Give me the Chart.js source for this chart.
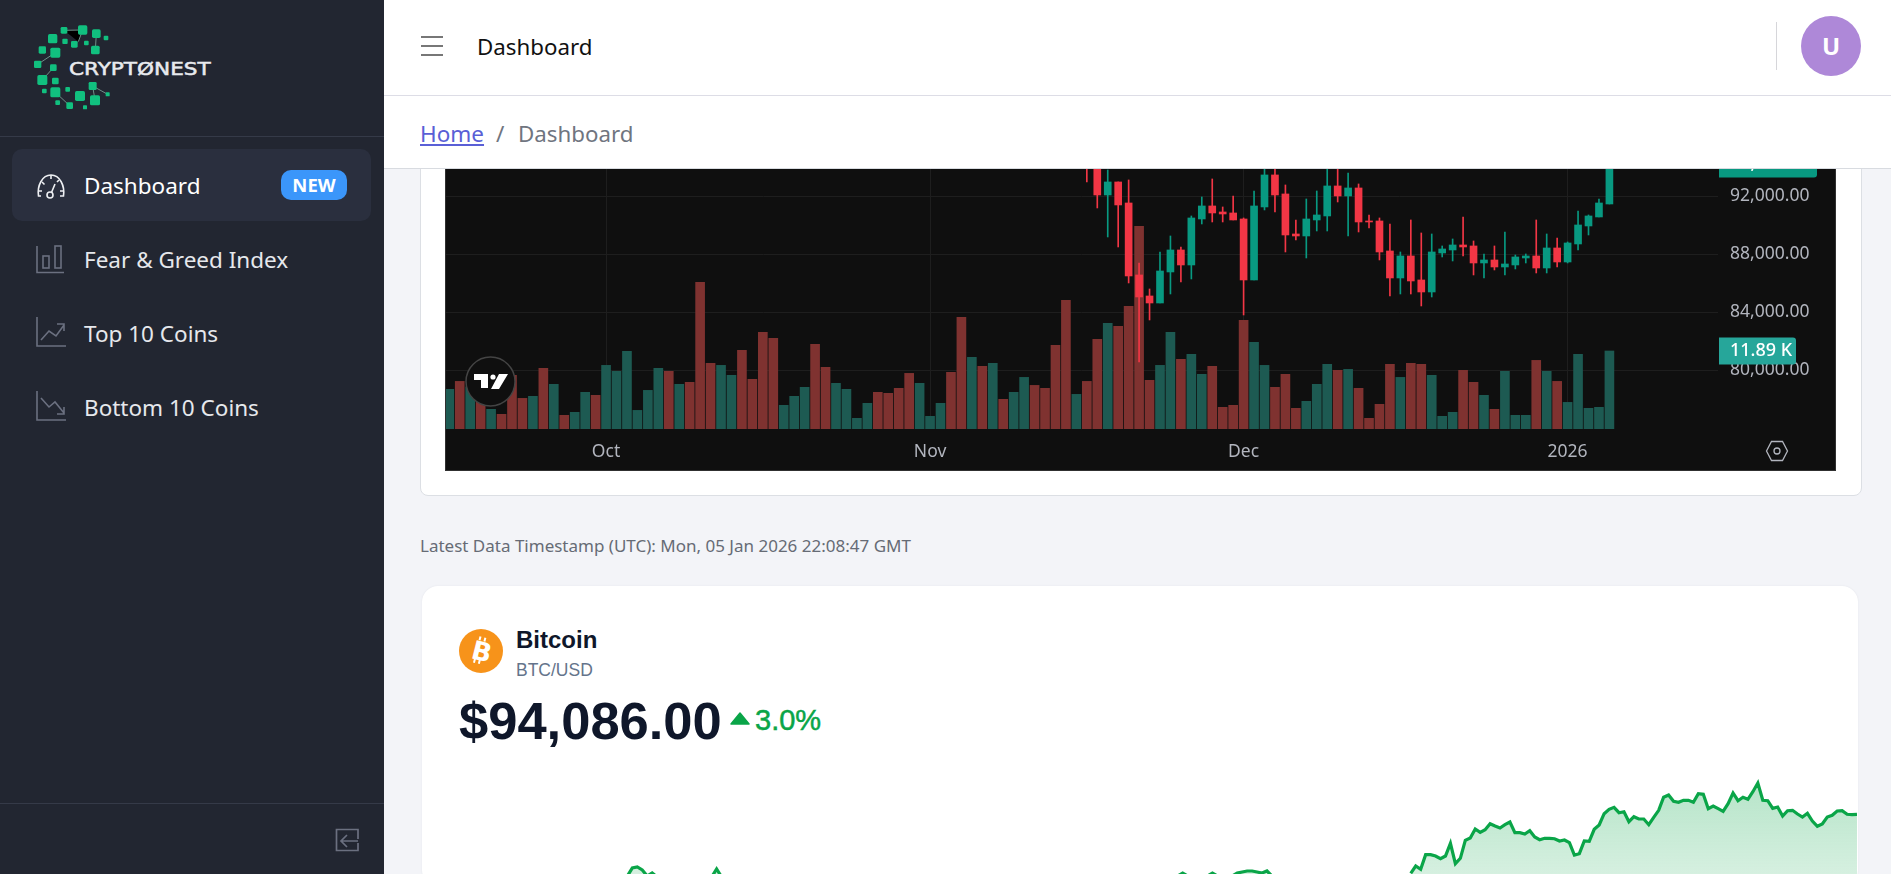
<!DOCTYPE html>
<html>
<head>
<meta charset="utf-8">
<title>Dashboard</title>
<script src="https://cdn.jsdelivr.net/npm/chart.js@4"></script>
<style>
  html, body { margin: 0; padding: 0; width: 1891px; height: 874px; overflow: hidden; background: #f3f4f8; font-family: "Noto Sans", sans-serif; }
  .abs { position: absolute; white-space: nowrap; }
  #sidebar { left: 0; top: 0; width: 384px; height: 874px; background: #222631; }
  #header { left: 384px; top: 0; width: 1507px; height: 95px; background: #fff; border-bottom: 1px solid #dddde6; z-index: 5; }
  #crumbs { left: 384px; top: 96px; width: 1507px; height: 72px; background: #fff; border-bottom: 1px solid #d8dbe0; z-index: 5; }
  .menu { left: 84px; font-size: 22.5px; color: #e6e8ec; line-height: 30px; }
  .card { background: #fff; }
  #chartWrap { left: 445px; top: 169px; width: 1390px; height: 302px; background: #0f0f0f; }
</style>
</head>
<body>
<div class="abs card" style="left:420px;top:120px;width:1440px;height:374px;border:1px solid #dcdfe4;border-radius:8px"></div>
<div class="abs" id="chartWrap"><canvas id="priceChart" width="1390" height="301"></canvas></div>
<div class="abs" style="left:445px;top:169px;width:1389px;height:301px;border:1px solid #303030;border-top:none;pointer-events:none"></div>

<svg class="abs" style="left:465px;top:356px" width="51" height="51" viewBox="0 0 51 51">
  <circle cx="25.5" cy="25.5" r="24.5" fill="#0f0f0f" stroke="#444" stroke-width="1.5"/>
  <path d="M9 18h14v14h-7v-8H9z M34 18h9l-9 15h-8z" fill="#fff"/><circle cx="28" cy="21" r="2.6" fill="#fff"/>
</svg>
<svg class="abs" style="left:1765px;top:440px" width="24" height="22" viewBox="0 0 24 22" fill="none" stroke="#b2b5be" stroke-width="1.3">
  <path d="M1.5 11 6.5 1.5h11l5 9.5-5 9.5h-11z"/><circle cx="12" cy="11" r="3"/>
</svg>

<div class="abs" style="left:420px;top:534px;font-size:17px;color:#666b75">Latest Data Timestamp (UTC): Mon, 05 Jan 2026 22:08:47 GMT</div>

<div class="abs card" style="left:422px;top:586px;width:1436px;height:300px;border-radius:16px;box-shadow:0 0 2px #e2e4ea"></div>
<svg class="abs" style="left:459px;top:629px" width="44" height="44" viewBox="0 0 44 44">
  <circle cx="22" cy="22" r="22" fill="#f7931a"/>
  <g transform="rotate(14 22 22)" fill="#fff" font-family="DejaVu Sans" font-weight="700" font-size="26"><text x="13" y="31.5">B</text><rect x="17" y="8" width="2" height="4"/><rect x="22" y="8" width="2" height="4"/><rect x="17" y="31" width="2" height="4"/><rect x="22" y="31" width="2" height="4"/></g>
</svg>
<div class="abs" style="left:516px;top:626px;font:700 24px 'Liberation Sans';color:#0f172a">Bitcoin</div>
<div class="abs" style="left:516px;top:660px;font:400 17.5px 'Liberation Sans';color:#64748b">BTC/USD</div>
<div class="abs" style="left:459px;top:690px;font:700 52.5px 'Liberation Sans';color:#0f172a">$94,086.00</div>
<svg class="abs" style="left:730px;top:712px" width="20" height="13" viewBox="0 0 20 13"><path d="M10 1 19 12H1z" fill="#0aa548" stroke="#0aa548" stroke-linejoin="round" stroke-width="1.5"/></svg>
<div class="abs" style="left:755px;top:704px;font:400 29px 'Liberation Sans';color:#0aa548;-webkit-text-stroke:0.5px #0aa548">3.0%</div>
<div class="abs" style="left:434px;top:760px;width:1423px;height:114px"><canvas id="lineChart" width="1423" height="114"></canvas></div>

<div class="abs" id="sidebar">
  <svg class="abs" style="left:0;top:0" width="384" height="137" viewBox="0 0 1152 411">
    <g stroke="#6f8f88" stroke-width="3"><path d="M192 91 248 90 235 125M289 101 286 150M166 158 113 193M160 203 127 240M166 277 209 317M278 258 323 283M278 258 285 301"/></g>
    <g fill="#11c07f">
      <rect x="182" y="81" width="20" height="20" rx="4"/><rect x="234" y="76" width="28" height="28" rx="5"/><rect x="276" y="88" width="26" height="26" rx="5"/><rect x="311" y="107" width="14" height="14" rx="3"/>
      <rect x="144" y="102" width="28" height="28" rx="5"/><rect x="187" y="116" width="16" height="16" rx="3"/><rect x="213" y="123" width="20" height="20" rx="4"/><rect x="252" y="122" width="14" height="14" rx="3"/>
      <rect x="273" y="137" width="26" height="26" rx="5"/><rect x="116" y="139" width="22" height="22" rx="4"/><rect x="151" y="143" width="30" height="30" rx="5"/><rect x="102" y="182" width="22" height="22" rx="4"/>
      <rect x="150" y="193" width="20" height="20" rx="4"/><rect x="112" y="225" width="30" height="30" rx="5"/><rect x="156" y="233" width="20" height="20" rx="4"/><rect x="126" y="266" width="14" height="14" rx="3"/>
      <rect x="151" y="262" width="30" height="30" rx="5"/><rect x="196" y="261" width="14" height="14" rx="3"/><rect x="225" y="273" width="30" height="30" rx="5"/><rect x="266" y="246" width="24" height="24" rx="4"/>
      <rect x="317" y="277" width="12" height="12" rx="2"/><rect x="166" y="301" width="14" height="14" rx="3"/><rect x="199" y="307" width="20" height="20" rx="4"/><rect x="249" y="316" width="12" height="12" rx="2"/><rect x="270" y="286" width="30" height="30" rx="5"/>
    </g>
    <text x="207" y="224" fill="#e8eaee" font-family="DejaVu Sans" font-weight="400" font-size="52" stroke="#e8eaee" stroke-width="1.5" textLength="425" lengthAdjust="spacingAndGlyphs">CRYPTØNEST</text>
  </svg>
  <div class="abs" style="left:0;top:136px;width:384px;height:1px;background:#353a48"></div>
  <div class="abs" style="left:12px;top:149px;width:359px;height:72px;background:#2a2f3e;border-radius:10px"></div>
  <svg class="abs" style="left:36px;top:173px" width="30" height="26" viewBox="0 0 30 26" fill="none" stroke="#eef0f3" stroke-width="1.6"><path d="M5 23H2.5C1 13 6 2 15 2s14 11 12.500 21H24"/><circle cx="14" cy="22" r="3"/><path d="M15.500 19.500 19 11M15 2v4M6 9l2.500 2.500M2 18h4M28 18h-4M23 7l-2 2"/></svg>
  <div class="abs menu" style="top:171px;color:#fff">Dashboard</div>
  <div class="abs" style="left:281px;top:170px;width:66px;height:30px;background:#3b96fa;border-radius:10px;color:#fff;font-weight:700;font-size:18.5px;line-height:30px;text-align:center">NEW</div>
  <svg class="abs" style="left:36px;top:244px" width="30" height="30" viewBox="0 0 30 30" fill="none" stroke="#6b7080" stroke-width="1.6"><path d="M1 2v26.500h27"/><rect x="7" y="12" width="6" height="12"/><rect x="19" y="2" width="6" height="22"/></svg>
  <div class="abs menu" style="top:245px">Fear &amp; Greed Index</div>
  <svg class="abs" style="left:36px;top:317px" width="30" height="30" viewBox="0 0 30 30" fill="none" stroke="#6b7080" stroke-width="1.6"><path d="M1 0v29h29"/><path d="M5 23l8-9 7 5 8-11M21 7h7v7"/></svg>
  <div class="abs menu" style="top:319px">Top 10 Coins</div>
  <svg class="abs" style="left:36px;top:391px" width="30" height="30" viewBox="0 0 30 30" fill="none" stroke="#6b7080" stroke-width="1.6"><path d="M1 0v29h29"/><path d="M5 7l8 9 6-5 9 11M21 23h7v-7"/></svg>
  <div class="abs menu" style="top:393px">Bottom 10 Coins</div>
  <div class="abs" style="left:0;top:803px;width:384px;height:1px;background:#353a48"></div>
  <svg class="abs" style="left:335px;top:828px" width="24" height="24" viewBox="0 0 24 24" fill="none" stroke="#6b7080" stroke-width="1.7"><path d="M23 11V1.500H1.500v21H23V15"/><path d="M23 13H7M12 7l-6 6 6 6"/></svg>
</div>

<div class="abs" id="header">
  <svg class="abs" style="left:37px;top:36px" width="22" height="20"><path d="M0 1h22M0 10h22M0 19h22" stroke="#777" stroke-width="2"/></svg>
  <div class="abs" style="left:93px;top:30px;font-size:22.3px;line-height:34px;color:#111">Dashboard</div>
  <div class="abs" style="left:1392px;top:22px;width:1px;height:48px;background:#d6d6da"></div>
  <div class="abs" style="left:1417px;top:16px;width:60px;height:60px;border-radius:50%;background:#ae88d8;color:#fff;font-weight:700;font-size:24px;line-height:60px;text-align:center">U</div>
</div>
<div class="abs" id="crumbs">
  <a class="abs" style="left:36px;top:21px;font-size:22.5px;line-height:34px;color:#5a5fd6;text-decoration:underline">Home</a>
  <div class="abs" style="left:112px;top:21px;font-size:22.5px;line-height:34px;color:#70757f">/</div>
  <div class="abs" style="left:134px;top:21px;font-size:22.3px;line-height:34px;color:#70757f">Dashboard</div>
</div>

<script>
// daily bars, first one is 16 Sep, last one is 5 Jan
const dateTicks = ["Oct", "Nov", "Dec", "2026"];
const dateTickIdx = [15, 46, 76, 107];
const priceTicks = [80000, 84000, 88000, 92000];

// volume in thousands
const volume = [
  6.05, 7.26, 6.40, 5.38, 3.00, 2.24, 8.18, 4.67, 4.98, 9.25, 6.81, 2.08, 2.54, 5.59, 5.13, 9.70,
  8.79, 11.84, 2.84, 5.89, 9.25, 8.79, 6.81, 7.11, 22.35, 10.01, 9.70, 8.18, 11.99, 7.57, 14.73,
  13.82, 3.61, 4.98, 6.35, 12.90, 9.40, 6.96, 6.05, 1.63, 3.91, 5.59, 5.44, 6.20, 8.48, 6.96,
  1.93, 3.91, 8.64, 17.02, 10.92, 9.55, 10.01, 4.52, 5.59, 7.87, 6.65, 6.20, 12.75, 19.61, 5.28,
  7.26, 13.67, 16.10, 15.65, 18.69, 30.89, 7.42, 9.70, 14.73, 10.62, 11.38, 8.33, 9.55, 3.30, 3.61,
  16.56, 13.21, 9.70, 6.35, 8.33, 3.15, 4.22, 6.81, 9.86, 8.94, 9.09, 6.20, 1.63, 3.76, 9.86, 7.87,
  10.01, 9.86, 8.18, 1.93, 2.54, 8.94, 7.11, 5.13, 3.00, 8.79, 2.08, 2.08, 10.46, 8.79, 7.26, 4.06,
  11.38, 3.15, 3.30, 11.89,
];
const volumeUp = [
  1, 0, 1, 0, 1, 0, 0, 0, 1, 0, 1, 0, 1, 1, 0, 1,
  1, 1, 1, 1, 1, 0, 1, 0, 0, 0, 1, 1, 0, 0, 0,
  0, 1, 1, 1, 0, 0, 1, 1, 1, 1, 0, 0, 0, 0, 1,
  1, 1, 0, 0, 1, 0, 1, 0, 1, 1, 0, 0, 0, 0, 1,
  0, 0, 1, 0, 0, 0, 0, 1, 1, 0, 1, 1, 0, 0, 0,
  0, 1, 1, 0, 0, 0, 1, 1, 1, 0, 1, 0, 0, 0, 0, 1,
  0, 0, 1, 1, 1, 0, 0, 1, 0, 1, 1, 1, 0, 1, 0, 1,
  1, 1, 1, 1,
];

// candles before this bar are all above the visible part of the chart
const firstCandle = 61;
const candleOpen = [
  95500, 95000, 92092, 92989, 91540, 86575, 85126, 84643, 86782, 88299, 87264, 90437, 91334, 90920, 90851, 90437,
  86230, 91265, 93472, 92161, 89402, 89264, 90368, 90644, 92713, 92023, 92575, 90299, 90299, 88230, 86368, 87885,
  86230, 85402, 88092, 88299, 88644, 88575, 87402, 87609, 87126, 87264, 87747, 87885, 87057, 88437, 87471, 88713,
  89954, 90575, 91471,
];
const candleClose = [
  94000, 92092, 92989, 91403, 86506, 85057, 84643, 86850, 88299, 87264, 90506, 91334, 90851, 90782, 90368, 86230,
  91334, 93472, 92092, 89333, 89264, 90437, 90713, 92713, 92023, 92575, 90230, 90230, 88161, 86368, 87885, 86161,
  85402, 88161, 88368, 88644, 88506, 87402, 87609, 87126, 87333, 87816, 87885, 87057, 88437, 87471, 88782, 90023,
  90644, 91540, 94220,
];
const candleHigh = [
  96000, 96000, 93816, 92989, 93127, 87402, 85609, 88161, 89264, 88506, 90644, 91954, 93196, 91265, 92023, 90506,
  92368, 94000, 94100, 92782, 90368, 91816, 92368, 94000, 94000, 93610, 92851, 90713, 90506, 90092, 88161, 90368,
  89471, 89402, 88575, 89058, 90575, 88920, 88023, 88575, 89540, 87954, 88023, 90368, 89402, 89127, 88851, 90989,
  90713, 91816, 94500,
];
const candleLow = [
  92989, 91196, 89195, 88506, 86023, 80574, 83471, 84643, 85264, 86092, 86299, 90092, 90230, 90230, 90368, 83816,
  86230, 91058, 90920, 88161, 88989, 87747, 89609, 89609, 91609, 89264, 89540, 89816, 87609, 85126, 85264, 85264,
  84437, 85057, 87816, 87540, 87885, 86575, 86368, 86920, 86575, 86989, 87402, 86713, 86713, 87126, 87402, 88299,
  89333, 90575, 91471,
];

// 24h BTC line, 288 points. Most of it runs below the fold so only what shows is listed
const lineIndex = [
  39, 40, 41, 42, 43, 44, 45, null, 56, 57, 58, null, 150, 151, 152, null, 156, 157, 158, null,
  161, 162, 163, 164, 165, 166, 167, 168, 169, null,
];
const lineHumps = [
  93466, 93546, 93556, 93526, 93466, 93496, 93456, null, 93456, 93536, 93456, null, 93466, 93496, 93466, null, 93466, 93496, 93466, null,
  93466, 93496, 93506, 93516, 93516, 93506, 93496, 93516, 93466, null,
];
const lineTail = [
  93493, 93566, 93533, 93679, 93679, 93666, 93639, 93666, 93793, 93589, 93643, 93823, 93846, 93936, 93903, 93929,
  93989, 93966, 93946, 93979, 94006, 93899, 93899, 93886, 93919, 93856, 93829, 93843, 93843, 93839, 93816, 93826,
  93799, 93676, 93689, 93816, 93813, 93933, 93976, 94089, 94133, 94153, 94099, 94109, 94009, 94059, 94036, 94036,
  93979, 94053, 94123, 94253, 94276, 94213, 94203, 94223, 94223, 94203, 94289, 94283, 94139, 94166, 94139, 94113,
  94189, 94296, 94219, 94253, 94233, 94309, 94396, 94223, 94219, 94143, 94156, 94066, 94119, 94123, 94086, 94056,
  94093, 94016, 93963, 93986, 94056, 94073, 94116, 94119, 94083, 94079, 94083,
];

const UP = "#089981";
const DOWN = "#f23645";
const VOL_UP = "#1d5a52";
const VOL_DOWN = "#7f3230";
const AXIS_TEXT = "#b2b5be";
const GRID = "#1e1e1e";
const AXIS_FONT = { family: "Noto Sans", size: 17.5 };

const candles = candleOpen.map((open, i) => ({
  x: firstCandle + i,
  open,
  close: candleClose[i],
  high: candleHigh[i],
  low: candleLow[i],
}));

// price and volume tags sitting on the price scale
const tagsPlugin = {
  id: "tags",
  afterDraw(chart) {
    const { ctx, chartArea } = chart;
    const tag = (y, w, color, text) => {
      ctx.fillStyle = color;
      ctx.beginPath();
      ctx.roundRect(chartArea.right + 1, y - 13.5, w, 27, [0, 3, 3, 0]);
      ctx.fill();
      ctx.fillStyle = "#fff";
      ctx.font = '500 18px "Noto Sans"';
      ctx.textBaseline = "middle";
      ctx.fillText(text, chartArea.right + 12, y);
    };
    const last = candles[candles.length - 1];
    tag(chart.scales.y.getPixelForValue(last.close), 98, UP, last.close.toLocaleString("en-US", { minimumFractionDigits: 2 }));
    tag(chart.scales.yVol.getPixelForValue(volume[volume.length - 1]), 77, "#26a69a", volume[volume.length - 1] + " K");
  },
};

// the axes must not ask for room for their labels, the plot runs to the canvas edge
function noLabelPadding(scale) {
  scale.paddingTop = 0;
  scale.paddingBottom = 0;
  scale.paddingLeft = 0;
  scale.paddingRight = 0;
}

new Chart(document.getElementById("priceChart"), {
  type: "bar",
  data: {
    datasets: [
      {
        label: "Volume",
        order: 3,
        yAxisID: "yVol",
        data: volume.map((v, i) => ({ x: i, y: v })),
        backgroundColor: volumeUp.map((u) => (u ? VOL_UP : VOL_DOWN)),
        barThickness: 9,
        grouped: false,
      },
      {
        label: "Wick",
        order: 2,
        yAxisID: "y",
        data: candles.map((c) => ({ x: c.x, y: [c.low, c.high] })),
        backgroundColor: candles.map((c) => (c.close >= c.open ? UP : DOWN)),
        barThickness: 1,
        grouped: false,
      },
      {
        label: "Candle",
        order: 1,
        yAxisID: "y",
        data: candles.map((c) => ({ x: c.x, y: [c.open, c.close] })),
        backgroundColor: candles.map((c) => (c.close >= c.open ? UP : DOWN)),
        barThickness: 7,
        grouped: false,
      },
    ],
  },
  options: {
    responsive: false,
    animation: false,
    devicePixelRatio: 1,
    layout: { padding: 0 },
    plugins: { legend: { display: false }, tooltip: { enabled: false } },
    scales: {
      x: {
        type: "linear",
        offset: false,
        min: -0.41,
        max: 121.39,
        afterFit: (scale) => { scale.height = 41; noLabelPadding(scale); },
        afterBuildTicks: (scale) => { scale.ticks = dateTickIdx.map((value) => ({ value })); },
        grid: { color: GRID, offset: false, drawTicks: false },
        border: { display: false },
        ticks: {
          color: AXIS_TEXT,
          font: AXIS_FONT,
          padding: 13,
          autoSkip: false,
          maxRotation: 0,
          callback: (v) => dateTicks[dateTickIdx.indexOf(v)],
        },
      },
      y: {
        position: "right",
        min: 75952,
        max: 93883,
        afterFit: (scale) => { scale.width = 117; noLabelPadding(scale); },
        afterBuildTicks: (scale) => { scale.ticks = priceTicks.map((value) => ({ value })); },
        grid: { color: GRID, drawTicks: false },
        border: { display: false },
        ticks: {
          color: AXIS_TEXT,
          font: AXIS_FONT,
          padding: 12,
          callback: (v) => v.toLocaleString("en-US", { minimumFractionDigits: 2 }),
        },
      },
      yVol: { display: false, min: 0, max: 39.63 },
    },
  },
  plugins: [tagsPlugin],
});

const linePoints = lineIndex
  .map((x, i) => ({ x, y: lineHumps[i] }))
  .concat(lineTail.map((y, i) => ({ x: 288 - lineTail.length + i, y })));

new Chart(document.getElementById("lineChart"), {
  type: "line",
  data: {
    datasets: [
      {
        label: "BTC/USD",
        data: linePoints,
        borderColor: "#0aa548",
        borderWidth: 3.2,
        pointRadius: 0,
        tension: 0,
        fill: "start",
        backgroundColor: (ctx) => {
          const area = ctx.chart.chartArea;
          if (!area) return "transparent";
          const g = ctx.chart.ctx.createLinearGradient(0, area.top, 0, area.bottom);
          g.addColorStop(0, "rgba(10,165,72,0.33)");
          g.addColorStop(1, "rgba(10,165,72,0.17)");
          return g;
        },
      },
    ],
  },
  options: {
    responsive: false,
    animation: false,
    devicePixelRatio: 1,
    layout: { padding: 0 },
    plugins: { legend: { display: false }, tooltip: { enabled: false } },
    scales: {
      x: { type: "linear", display: false, min: 0, max: 287 },
      y: { display: false, min: 93486, max: 94626 },
    },
  },
});
</script>
</body>
</html>
